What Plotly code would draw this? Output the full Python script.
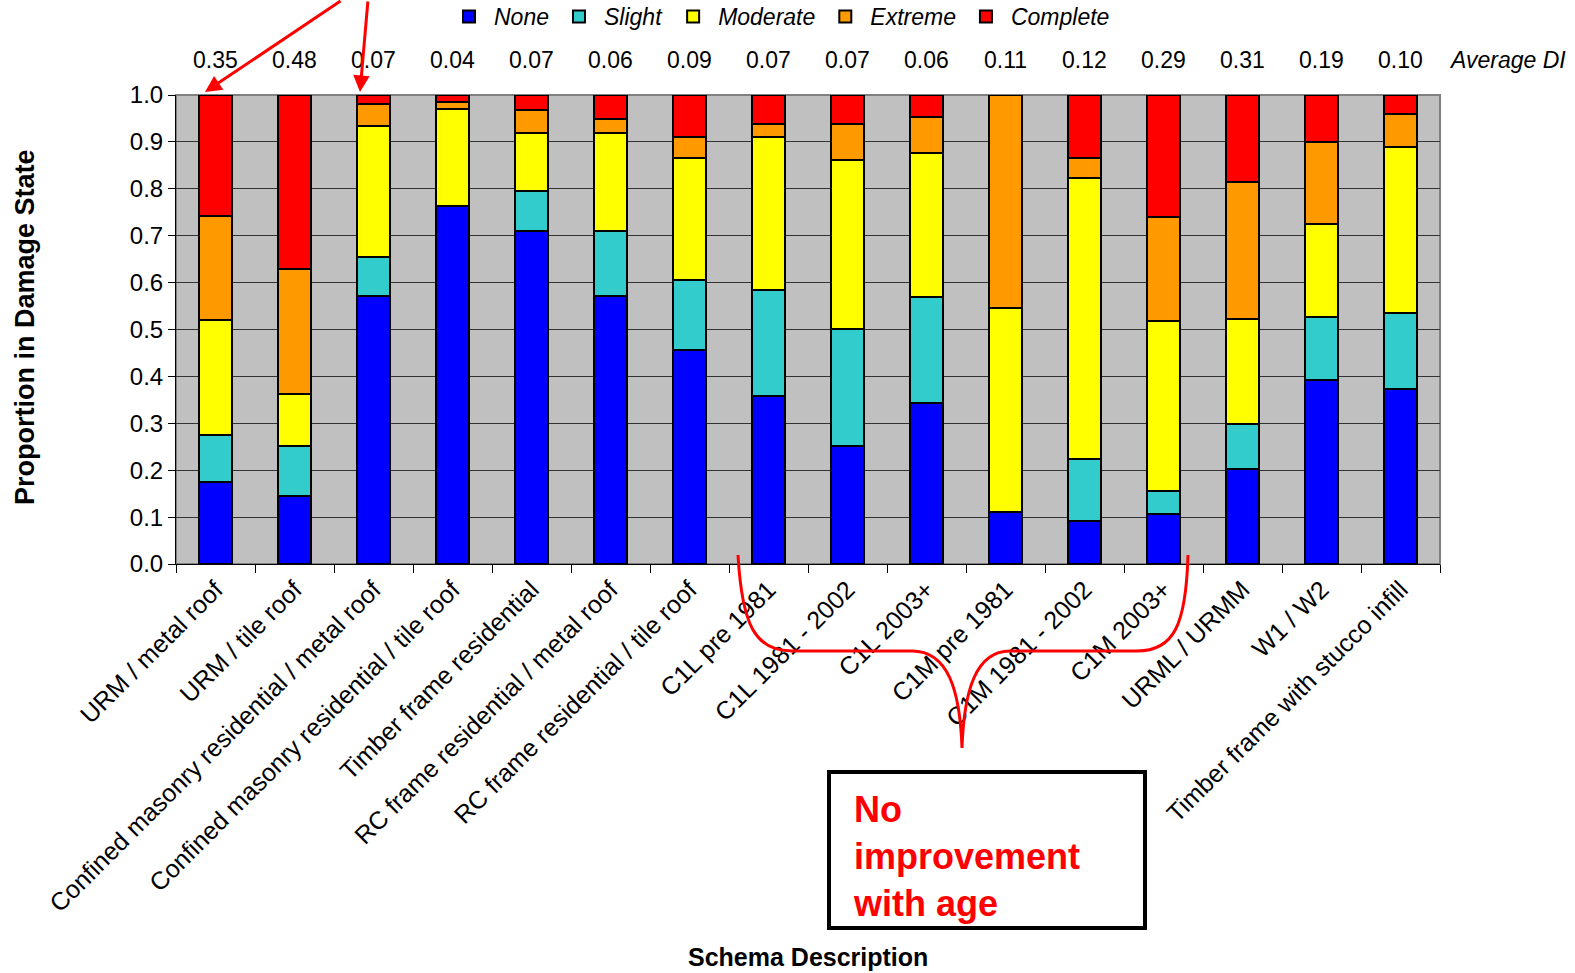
import plotly.graph_objects as go

categories = [
    "URM / metal roof", "URM / tile roof",
    "Confined masonry residential / metal roof",
    "Confined masonry residential / tile roof",
    "Timber frame residential",
    "RC frame residential / metal roof",
    "RC frame residential / tile roof",
    "C1L pre 1981", "C1L 1981 - 2002", "C1L 2003+",
    "C1M pre 1981", "C1M 1981 - 2002", "C1M 2003+",
    "URML / URMM", "W1 / W2", "Timber frame with stucco infill",
]

none_vals = [0.175, 0.146, 0.571, 0.763, 0.710, 0.571, 0.456, 0.358, 0.251, 0.344, 0.111, 0.092, 0.106, 0.203, 0.392, 0.373]
slight_vals = [0.101, 0.105, 0.084, 0.000, 0.085, 0.139, 0.149, 0.227, 0.251, 0.226, 0.000, 0.131, 0.049, 0.096, 0.135, 0.163]
moderate_vals = [0.244, 0.112, 0.278, 0.207, 0.123, 0.208, 0.261, 0.325, 0.359, 0.306, 0.435, 0.600, 0.363, 0.223, 0.198, 0.354]
extreme_vals = [0.222, 0.267, 0.047, 0.016, 0.049, 0.030, 0.044, 0.028, 0.077, 0.078, 0.454, 0.043, 0.222, 0.292, 0.175, 0.070]
complete_vals = [0.258, 0.370, 0.020, 0.014, 0.033, 0.052, 0.090, 0.062, 0.062, 0.046, 0.000, 0.134, 0.260, 0.186, 0.100, 0.040]

avg_di = ["0.35", "0.48", "0.07", "0.04", "0.07", "0.06", "0.09", "0.07",
          "0.07", "0.06", "0.11", "0.12", "0.29", "0.31", "0.19", "0.10"]

series = [
    ("None", none_vals, "#0000FF"),
    ("Slight", slight_vals, "#33CCCC"),
    ("Moderate", moderate_vals, "#FFFF00"),
    ("Extreme", extreme_vals, "#FF9900"),
    ("Complete", complete_vals, "#FF0000"),
]

FONT = "Liberation Sans, Arial, sans-serif"
W, H = 1575, 973
ML, MR, MT, MB = 176, 135, 95, 409
PW = W - ML - MR
PH = H - MT - MB


def px(x):
    return (x - ML) / PW


def py(y):
    return (H - MB - y) / PH


fig = go.Figure()
for name, vals, color in series:
    fig.add_trace(go.Bar(
        x=categories, y=vals, name=name,
        marker=dict(color=color, line=dict(color="black", width=2)),
    ))

annotations = []
for cat, lab in zip(categories, avg_di):
    annotations.append(dict(
        x=cat, xref="x", y=py(60), yref="paper", text=lab, showarrow=False,
        font=dict(family=FONT, size=23, color="black"), yanchor="middle", xanchor="center",
    ))
annotations.append(dict(
    x=px(1507), xref="paper", y=py(60), yref="paper", text="Average DI", showarrow=False,
    font=dict(family=FONT, size=23, color="black", style="italic"), xanchor="center", yanchor="middle",
))
annotations.append(dict(
    x=px(25), xref="paper", y=py(327), yref="paper", text="<b>Proportion in Damage State</b>",
    showarrow=False, textangle=-90, font=dict(family=FONT, size=27, color="black"),
    xanchor="center", yanchor="middle",
))
annotations.append(dict(
    x=px(808), xref="paper", y=py(957), yref="paper", text="<b>Schema Description</b>",
    showarrow=False, font=dict(family=FONT, size=25, color="black"),
    xanchor="center", yanchor="middle",
))
# red arrows
for tip, tail in [((205, 92), (342, 0)), ((360, 92), (368, 0))]:
    annotations.append(dict(
        x=px(tip[0]), xref="paper", y=py(tip[1]), yref="paper", text="",
        showarrow=True, ax=tail[0] - tip[0], ay=tail[1] - tip[1],
        arrowhead=2, arrowsize=1.1, arrowwidth=3, arrowcolor="#FF0000", standoff=0,
    ))
# text box
annotations.append(dict(
    x=px(851), xref="paper", y=py(856), yref="paper",
    text="<b>No<br>improvement<br>with age</b>", showarrow=False, align="left",
    font=dict(family=FONT, size=36, color="#FF0000"), xanchor="left", yanchor="middle",
))

def pt(x, y):
    return f"{px(x):.5f},{py(y):.5f}"

brace = (
    f"M {pt(738,555)} C {pt(742,625)} {pt(755,651)} {pt(792,651)} "
    f"L {pt(912,651)} C {pt(948,651)} {pt(960,690)} {pt(962,748)} "
    f"C {pt(964,690)} {pt(976,651)} {pt(1010,651)} "
    f"L {pt(1137,651)} C {pt(1174,651)} {pt(1186,625)} {pt(1188,555)}"
)

shapes = [
    dict(type="rect", xref="paper", yref="paper", x0=0, y0=0, x1=1, y1=1,
         line=dict(color="#808080", width=2), layer="below"),
    dict(type="path", xref="paper", yref="paper", path=brace,
         line=dict(color="#FF0000", width=3)),
    dict(type="rect", xref="paper", yref="paper", x0=px(829), y0=py(928), x1=px(1145), y1=py(772),
         line=dict(color="black", width=4), fillcolor="white"),
]

fig.update_layout(
    width=W, height=H,
    margin=dict(l=ML, r=MR, t=MT, b=MB, autoexpand=False),
    barmode="stack", bargap=0.59,
    plot_bgcolor="#C0C0C0", paper_bgcolor="white",
    font=dict(family=FONT, size=23, color="black"),
    showlegend=True,
    legend=dict(orientation="h", x=px(444), xanchor="left", y=py(-5), yanchor="top",
                font=dict(family=FONT, size=23, style="italic", color="black"),
                itemwidth=40, traceorder="normal", bgcolor="rgba(0,0,0,0)"),
    xaxis=dict(type="category", tickangle=-45, tickson="boundaries", ticks="outside",
               ticklen=8, tickcolor="black", showline=True, linecolor="black", linewidth=1,
               tickfont=dict(family=FONT, size=25, color="black"), showgrid=False,
               automargin=False),
    yaxis=dict(range=[0, 1], dtick=0.1, tickformat=".1f", ticks="outside", ticklen=7,
               tickcolor="black", showline=True, linecolor="black", linewidth=1,
               gridcolor="#333333", gridwidth=1, zeroline=False, automargin=False,
               tickfont=dict(family=FONT, size=24, color="black")),
    annotations=annotations,
    shapes=shapes,
)

fig.write_html("out.html")
